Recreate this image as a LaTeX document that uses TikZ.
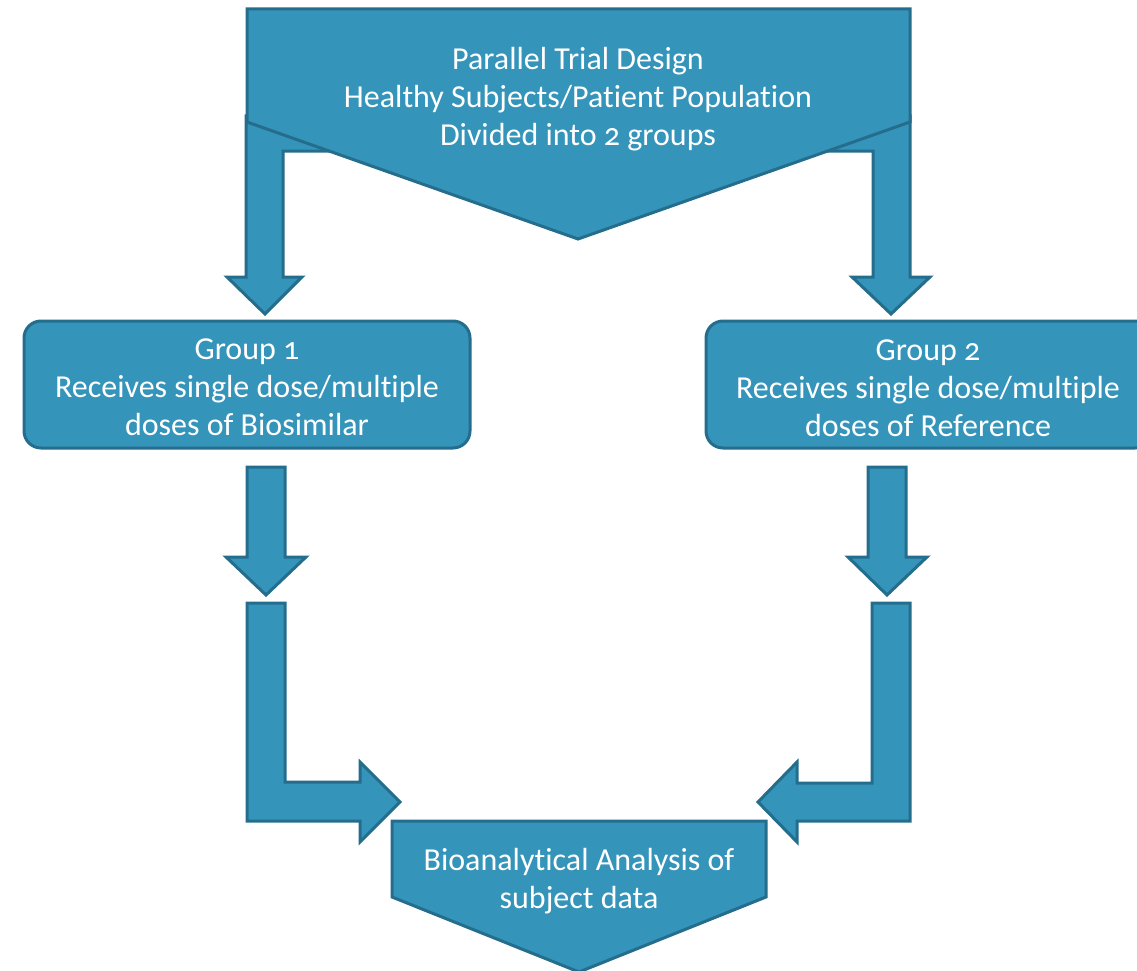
\documentclass[tikz,border=0pt]{standalone}
\usepackage{fontspec}
\setmainfont[Numbers=OldStyle,Ligatures=NoCommon]{Carlito}
\definecolor{fillblue}{HTML}{3594BA}
\definecolor{edgeblue}{HTML}{246D8C}
\tikzset{
  blockarrow/.style={fill=fillblue, draw=edgeblue, line width=3pt, line join=miter},
  boxtext/.style={text=white, align=center, font=\fontsize{32}{38}\selectfont, inner sep=0pt},
  groupbox/.style={fill=fillblue, draw=edgeblue, line width=3pt, rounded corners=17pt,
     minimum width=446pt, minimum height=127pt, inner sep=0pt}
}
\begin{document}
\begin{tikzpicture}[x=1pt,y=-1pt]
\useasboundingbox (0,0) rectangle (1137,971);
% top bent arrows (behind the top pentagon)
\draw[blockarrow] (283,151) -- (400,151) -- (400,116) -- (246,116) -- (246,277) -- (227,277)
  -- (265,314) -- (302,277) -- (283,277) -- cycle;
\draw[blockarrow] (873,151) -- (760,151) -- (760,116) -- (910,116) -- (910,277) -- (930,277)
  -- (891,314) -- (852,277) -- (873,277) -- cycle;
% top pentagon
\draw[blockarrow] (247,9) -- (910,9) -- (910,122) -- (578,239) -- (247,122) -- cycle;
\node[boxtext] (top) at (578,99) {Parallel Trial Design\\Healthy Subjects/Patient Population\\Divided into 2 groups};
% group boxes
\node[groupbox] (g1) at (247,384.5) {};
\node[boxtext] (g1t) at (247,387.5) {Group 1\\Receives single dose/multiple\\doses of Biosimilar};
\node[groupbox] (g2) at (929,384.5) {};
\node[boxtext] (g2t) at (928,388) {Group 2\\Receives single dose/multiple\\doses of Reference};
% middle down arrows
\draw[blockarrow] (247,467) -- (285,467) -- (285,557) -- (306,557) -- (266,595) -- (226,557) -- (247,557) -- cycle;
\draw[blockarrow] (868,467) -- (906,467) -- (906,557) -- (927,557) -- (887,595) -- (848,557) -- (868,557) -- cycle;
% bottom bent arrows
\draw[blockarrow] (247,603) -- (285,603) -- (285,782) -- (360,782) -- (360,762) -- (400,802)
  -- (360,842) -- (360,821) -- (247,821) -- cycle;
\draw[blockarrow] (910,603) -- (872,603) -- (872,783) -- (797,783) -- (797,762) -- (758,802)
  -- (797,842) -- (797,821) -- (910,821) -- cycle;
% bottom pentagon
\draw[blockarrow] (392,821) -- (766,821) -- (766,897) -- (579,972) -- (392,897) -- cycle;
\node[boxtext] (bot) at (579,881) {Bioanalytical Analysis of\\subject data};
\end{tikzpicture}
\end{document}
